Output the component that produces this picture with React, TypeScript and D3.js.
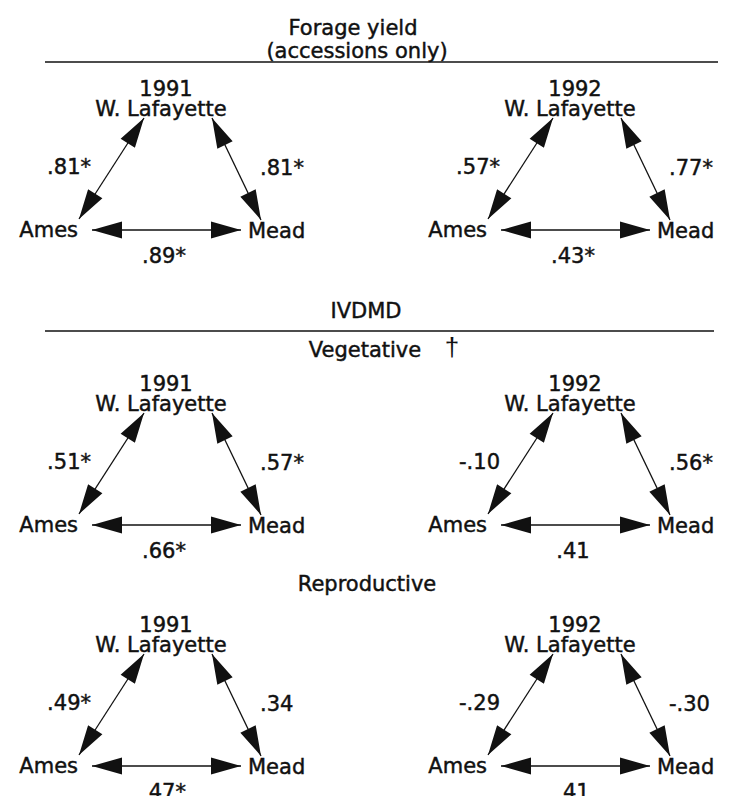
import React from "react";
import * as d3 from "d3";

// panels: rows = trait / stage, columns = year
const years = ["1991", "1992"];
const groups = ["Forage yield", "Vegetative", "Reproductive"];

// correlations between locations, row-major (group, year)
const rWlAmes = [0.81, 0.57, 0.51, -0.1, 0.49, -0.29];
const rWlMead = [0.81, 0.77, 0.57, 0.56, 0.34, -0.3];
const rAmesMead = [0.89, 0.43, 0.66, 0.41, 0.47, 0.41];
const sigWlAmes = [true, true, true, false, true, false];
const sigWlMead = [true, true, true, true, false, false];
const sigAmesMead = [true, true, true, false, true, false];

const W = 731;
const H = 796;
const FONT = "'DejaVu Sans', 'Liberation Sans', Arial, sans-serif";

const f2 = d3.format(".2f");
const fmt = (r: number, sig: boolean) =>
  f2(r).replace("\u2212", "-").replace("0.", ".") + (sig ? "*" : "");

// where the "W. Lafayette" label of each panel sits
const colX = d3.scaleOrdinal<string, number>().domain(years).range([161, 570]);
const rowY = d3.scaleOrdinal<string, number>().domain(groups).range([116, 411, 652]);

const txt = {
  fontFamily: FONT,
  fill: "#111",
  stroke: "#111",
  strokeWidth: 0.45,
} as const;

function Arrow({ x1, y1, x2, y2 }: { x1: number; y1: number; x2: number; y2: number }) {
  const dx = x2 - x1;
  const dy = y2 - y1;
  const len = Math.hypot(dx, dy);
  const ux = dx / len;
  const uy = dy / len;
  const L = 30;
  const hw = 8.5;
  const head = (px: number, py: number, sx: number, sy: number) => {
    const p = d3.path();
    p.moveTo(px, py);
    p.lineTo(px - sx * L - sy * hw, py - sy * L + sx * hw);
    p.lineTo(px - sx * L + sy * hw, py - sy * L - sx * hw);
    p.closePath();
    return p.toString();
  };
  return (
    <g>
      <line x1={x1} y1={y1} x2={x2} y2={y2} stroke="#111" strokeWidth={1.3} />
      <path d={head(x2, y2, ux, uy) + head(x1, y1, -ux, -uy)} fill="#111" />
    </g>
  );
}

function Panel({ i }: { i: number }) {
  const g = groups[Math.floor(i / 2)];
  const yr = years[i % 2];
  const cx = colX(yr);
  const cy = rowY(g);
  return (
    <g transform={`translate(${cx},${cy})`}>
      <text {...txt} x={5} y={-20} fontSize={21} textAnchor="middle">{yr}</text>
      <text {...txt} x={0} y={0} fontSize={21} textAnchor="middle">W. Lafayette</text>
      <text {...txt} x={-83} y={121} fontSize={21} textAnchor="end">Ames</text>
      <text {...txt} x={87} y={122} fontSize={21} textAnchor="start">Mead</text>

      <Arrow x1={-17} y1={2} x2={-82} y2={103} />
      <Arrow x1={51} y1={2} x2={100} y2={104} />
      <Arrow x1={-69} y1={114} x2={80} y2={114} />

      <text {...txt} x={-70} y={58} fontSize={21} textAnchor="end">{fmt(rWlAmes[i], sigWlAmes[i])}</text>
      <text {...txt} x={99} y={59} fontSize={21} textAnchor="start">{fmt(rWlMead[i], sigWlMead[i])}</text>
      <text {...txt} x={3} y={147} fontSize={21} textAnchor="middle">{fmt(rAmesMead[i], sigAmesMead[i])}</text>
    </g>
  );
}

export default function App() {
  return (
    <svg
      width={W}
      height={H}
      style={{ position: "absolute", left: 0, top: 0, background: "#fff" }}
    >
      {/* section headings */}
      <text {...txt} x={353} y={35} fontSize={21} textAnchor="middle">Forage yield</text>
      <text {...txt} x={357} y={58} fontSize={21} textAnchor="middle">(accessions only)</text>
      <line x1={45} x2={718} y1={62} y2={62} stroke="#111" strokeWidth={1.4} />

      <text {...txt} x={366} y={318} fontSize={21} textAnchor="middle">IVDMD</text>
      <line x1={45} x2={714} y1={331} y2={331} stroke="#111" strokeWidth={1.4} />
      <text {...txt} x={365} y={357} fontSize={21} textAnchor="middle">Vegetative</text>
      <text x={452} y={356} fontSize={26} textAnchor="middle" fontFamily="'Liberation Sans', Arial, sans-serif" fill="#111">†</text>
      <text {...txt} x={367} y={591} fontSize={21} textAnchor="middle">Reproductive</text>

      {d3.range(6).map((i) => (
        <Panel key={i} i={i} />
      ))}
    </svg>
  );
}
